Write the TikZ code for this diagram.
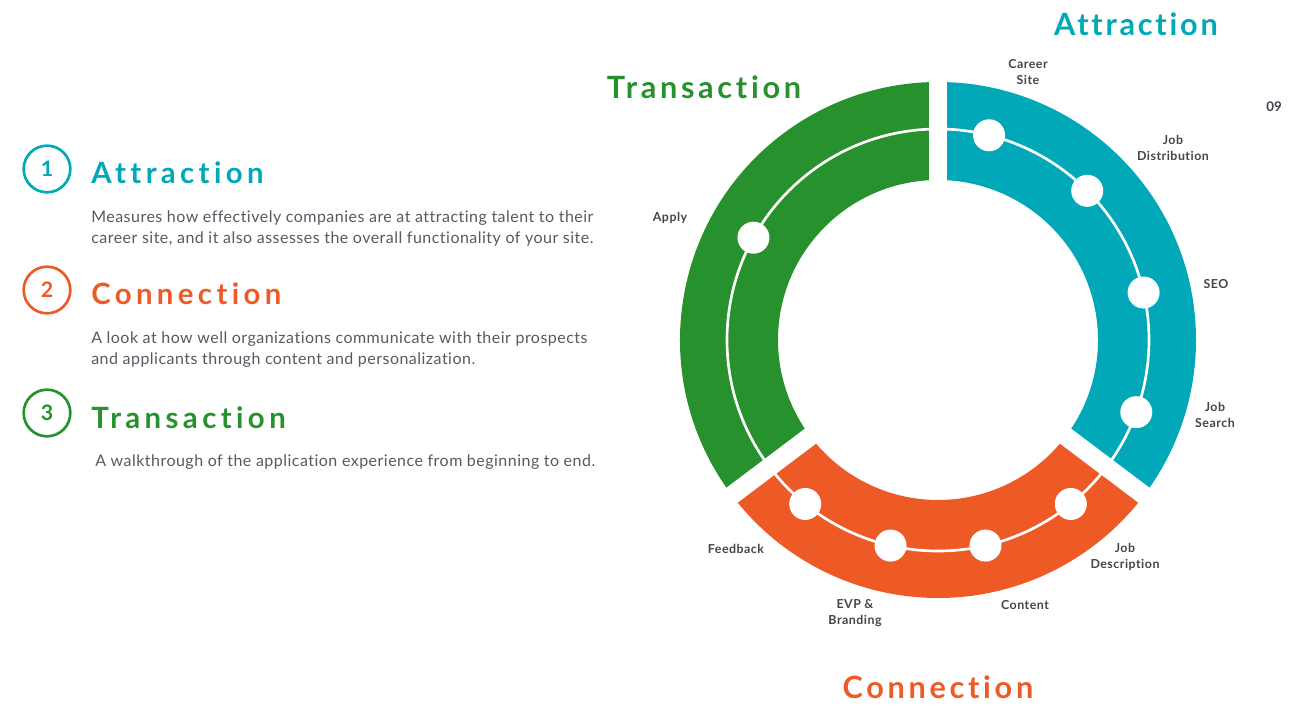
\documentclass[tikz,border=0pt]{standalone}
\usepackage{fontspec}
\setmainfont{Lato}[Ligatures=NoCommon]
\usetikzlibrary{calc}

\definecolor{attrteal}{RGB}{0,168,184}
\definecolor{connorange}{RGB}{238,90,38}
\definecolor{transgreen}{RGB}{38,145,45}
\definecolor{bodygray}{RGB}{88,88,98}
\definecolor{lblgray}{RGB}{68,68,78}

\tikzset{
  dot/.style={circle, fill=white, inner sep=0pt, minimum size=24pt},
  lbl/.style={font=\bfseries\fontsize{9.3}{12}\selectfont\addfontfeature{LetterSpace=4}, text=lblgray, align=center, inner sep=0pt},
  bigtitle/.style={font=\bfseries\fontsize{23}{26}\selectfont\addfontfeature{LetterSpace=12}, anchor=base, inner sep=0pt},
  head/.style={font=\bfseries\fontsize{22}{26}\selectfont\addfontfeature{LetterSpace=15}, anchor=base west, inner sep=0pt},
  bodytext/.style={font=\fontsize{12}{16}\selectfont\addfontfeature{LetterSpace=3}, text=bodygray, anchor=base west, align=left, inner sep=0pt},
  numring/.style={circle, draw, line width=2pt, minimum size=35pt, inner sep=0pt, font=\bfseries\fontsize{16}{16}\selectfont},
  gap/.style={white, line width=14pt}
}

\begin{document}
\begin{tikzpicture}[x=0.75pt, y=0.75pt]
  \useasboundingbox (0,0) rectangle (1289,-709);
  \coordinate (C) at (938,-340);

  % ring segments
  \fill[attrteal] ($(C)+(90:258)$) arc[start angle=90, end angle=-37, radius=258]
    -- ($(C)+(-37:160)$) arc[start angle=-37, end angle=90, radius=160] -- cycle;
  \fill[connorange] ($(C)+(-37:258)$) arc[start angle=-37, end angle=-143, radius=258]
    -- ($(C)+(-143:160)$) arc[start angle=-143, end angle=-37, radius=160] -- cycle;
  \fill[transgreen] ($(C)+(217:258)$) arc[start angle=217, end angle=90, radius=258]
    -- ($(C)+(90:160)$) arc[start angle=90, end angle=217, radius=160] -- cycle;
  \draw[white, line width=2pt] (C) circle[radius=211];
  \foreach \a in {90,-37,217}
    \draw[gap] ($(C)+(\a:150)$) -- ($(C)+(\a:270)$);

  % steps
  \foreach \a [count=\i] in {76,45,13,-20,-51,-77,-103,-129,151}
    \node[dot] (s\i) at ($(C)+(\a:211)$) {};

  \node[lbl] (careersite) at (1028,-72) {Career\\Site};
  \node[lbl] (jobdist) at (1173,-148) {Job\\Distribution};
  \node[lbl] (seo) at (1216,-284) {SEO};
  \node[lbl] (jobsearch) at (1215,-415) {Job\\Search};
  \node[lbl] (jobdesc) at (1125,-557) {Job\\Description};
  \node[lbl] (content) at (1025,-605) {Content};
  \node[lbl] (evp) at (855,-613) {EVP \&\\Branding};
  \node[lbl] (feedback) at (736,-549) {Feedback};
  \node[lbl] (apply) at (670,-218) {Apply};

  % titles round the ring
  \node[bigtitle, text=attrteal, font=\bfseries\fontsize{23}{26}\selectfont\addfontfeature{LetterSpace=9}] (t-attr) at (1136,-36) {Attraction};
  \node[bigtitle, text=transgreen] (t-trans) at (704,-99) {Transaction};
  \node[bigtitle, text=connorange] (t-conn) at (938,-698) {Connection};
  \node[font=\bfseries\fontsize{10}{10}\selectfont, text=lblgray] (page) at (1274,-107) {09};

  % legend
  \node[numring, draw=attrteal, text=attrteal] (n1) at (47,-169) {1};
  \node[numring, draw=connorange, text=connorange] (n2) at (47,-290) {2};
  \node[numring, draw=transgreen, text=transgreen] (n3) at (47,-413) {3};
  \node[head, text=attrteal] (h1) at (91,-183.5) {Attraction};
  \node[head, text=connorange] (h2) at (91,-305) {Connection};
  \node[head, text=transgreen] (h3) at (91,-428) {Transaction};
  \node[bodytext] (b1) at (91,-243.5) {Measures how effectively companies are at attracting talent to their\\career site, and it also assesses the overall functionality of your site.};
  \node[bodytext] (b2) at (91,-364.5) {A look at how well organizations communicate with their prospects\\and applicants through content and personalization.};
  \node[bodytext] (b3) at (95,-466) {A walkthrough of the application experience from beginning to end.};
\end{tikzpicture}
\end{document}
